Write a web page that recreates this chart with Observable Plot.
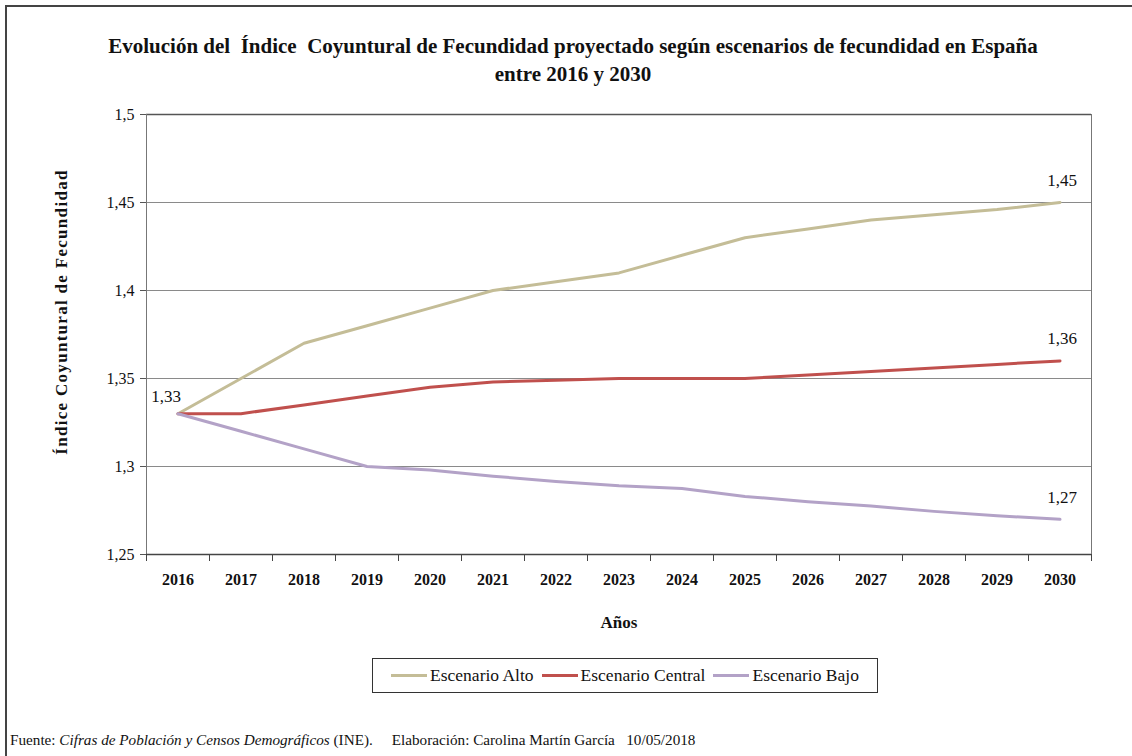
<!DOCTYPE html>
<html>
<head>
<meta charset="utf-8">
<script src="https://cdn.jsdelivr.net/npm/d3@7"></script>
<script src="https://cdn.jsdelivr.net/npm/@observablehq/plot@0.6"></script>
<style>
  html, body { margin: 0; padding: 0; background: #fff; }
  body { width: 1132px; height: 756px; overflow: hidden; font-family: "Liberation Serif", "Times New Roman", serif; }
  #wrap { position: relative; width: 1132px; height: 756px; }
  #border { position: absolute; left: 5px; top: 5px; width: 1140px; height: 800px; border-top: 2px solid #444; border-left: 2px solid #444; }
  #title { position: absolute; left: 0; top: 32px; width: 1146px; text-align: center; font-weight: bold; font-size: 21px; line-height: 28px; color: #111; }
  #chart { position: absolute; left: 0; top: 100px; }
  #ylabel { position: absolute; left: 62px; top: 312px; transform: translate(-50%, -50%) rotate(-90deg); white-space: nowrap; font-weight: bold; font-size: 17px; letter-spacing: 1.3px; color: #111; }
  #legend { position: absolute; left: 372px; top: 658px; width: 504px; height: 33px; border: 1px solid #333; display: flex; align-items: center; justify-content: center; gap: 8px; font-size: 17.5px; color: #111; }
  .item { display: flex; align-items: center; gap: 3px; }
  .sw { width: 36px; height: 3px; }
  #footer { position: absolute; left: 10px; top: 731px; font-size: 15.2px; color: #111; white-space: nowrap; }
</style>
</head>
<body>
<div id="wrap">
  <div id="border"></div>
  <div id="title">Evolución del&nbsp; Índice&nbsp; Coyuntural de Fecundidad proyectado según escenarios de fecundidad en España<br>entre 2016 y 2030</div>
  <div id="chart"></div>
  <div id="ylabel">Índice Coyuntural de Fecundidad</div>
  <div id="legend"></div>
  <div id="footer">Fuente: <i>Cifras de Población y Censos Demográficos</i> (INE).&nbsp;&nbsp;&nbsp;&nbsp; Elaboración: Carolina Martín García&nbsp;&nbsp; 10/05/2018</div>
</div>
<script>
const years = [2016,2017,2018,2019,2020,2021,2022,2023,2024,2025,2026,2027,2028,2029,2030];
const alto    = [1.33,1.35,1.37,1.38,1.39,1.40,1.405,1.41,1.42,1.43,1.435,1.44,1.443,1.446,1.45];
const central = [1.33,1.33,1.335,1.34,1.345,1.348,1.349,1.35,1.35,1.35,1.352,1.354,1.356,1.358,1.36];
const bajo    = [1.33,1.32,1.31,1.30,1.298,1.2945,1.2915,1.289,1.2875,1.283,1.28,1.2775,1.2745,1.272,1.27];
const seriesNames = ["Escenario Alto","Escenario Central","Escenario Bajo"];
const seriesColors = ["#c4bd97","#c0504d","#b3a2c7"];
const yTicks = [1.25,1.3,1.35,1.4,1.45,1.5];

const allSeries = [alto, central, bajo];
const data = [];
allSeries.forEach((vals, i) => vals.forEach((v, j) => data.push({year: years[j], value: v, serie: seriesNames[i]})));

const fmt = v => String(v).replace(".", ",");

const startLabel = [{year: years[0], value: alto[0]}];
const endLabels = allSeries.map((vals, i) => ({year: years[years.length-1], value: vals[vals.length-1], serie: seriesNames[i]}));
const x0 = years[0] - 0.5;
const x1 = years[years.length-1] + 0.5;
const bounds = years.map(y => y - 0.5).concat([x1]);
const FF = "'Liberation Serif', 'Times New Roman', serif";

const plot = Plot.plot({
  width: 1132,
  height: 544,
  marginLeft: 146,
  marginRight: 41,
  marginTop: 14,
  marginBottom: 90,
  style: {fontFamily: FF, background: "transparent", color: "#111"},
  x: {type: "linear", domain: [x0, x1], axis: null},
  y: {type: "linear", domain: [1.25, 1.5], axis: null},
  color: {domain: seriesNames, range: seriesColors},
  marks: [
    Plot.ruleY(yTicks.slice(1, -1), {x1: x0, x2: x1, stroke: "#8a8a8a", strokeWidth: 1}),
    Plot.ruleY([1.5], {x1: x0, x2: x1, stroke: "#555", strokeWidth: 1.5}),
    Plot.ruleX([x1], {y1: 1.25, y2: 1.5, stroke: "#777", strokeWidth: 1}),
    Plot.ruleX([x0], {y1: 1.25, y2: 1.5, stroke: "#777", strokeWidth: 1}),
    Plot.ruleY([1.25], {x1: x0, x2: x1, stroke: "#444", strokeWidth: 1.5}),
    Plot.ruleY(yTicks, {x1: x0, x2: x0, insetLeft: -6, stroke: "#555"}),
    Plot.text(yTicks, {x: x0, y: d => d, text: d => fmt(d), textAnchor: "end", dx: -12, fontSize: 16, fontFamily: FF, fill: "#111"}),
    Plot.ruleX(bounds, {y1: 1.25, y2: 1.25, insetBottom: -7, stroke: "#444"}),
    Plot.text(years, {x: d => d, y: 1.25, text: d => String(d), dy: 25, fontSize: 16, fontWeight: "bold", fontFamily: FF, fill: "#111"}),
    Plot.text(["Años"], {x: (years[0] + years[years.length-1]) / 2, y: 1.25, text: d => d, dy: 68, fontSize: 17, fontWeight: "bold", fontFamily: FF, fill: "#111"}),
    Plot.line(data, {x: "year", y: "value", z: "serie", stroke: "serie", strokeWidth: 3}),
    Plot.text(startLabel, {x: "year", y: "value", text: d => fmt(d.value), dx: -12, dy: -17, fontSize: 17, fontFamily: FF, fill: "#111"}),
    Plot.text(endLabels, {x: "year", y: "value", text: d => fmt(d.value), dx: 2, dy: -22, fontSize: 17, fontFamily: FF, fill: "#111"})
  ]
});
document.getElementById("chart").appendChild(plot);

const legend = document.getElementById("legend");
seriesNames.forEach((n, i) => {
  const it = document.createElement("div");
  it.className = "item";
  const sw = document.createElement("div");
  sw.className = "sw";
  sw.style.background = seriesColors[i];
  const t = document.createElement("span");
  t.textContent = n;
  it.appendChild(sw); it.appendChild(t);
  legend.appendChild(it);
});
</script>
</body>
</html>
